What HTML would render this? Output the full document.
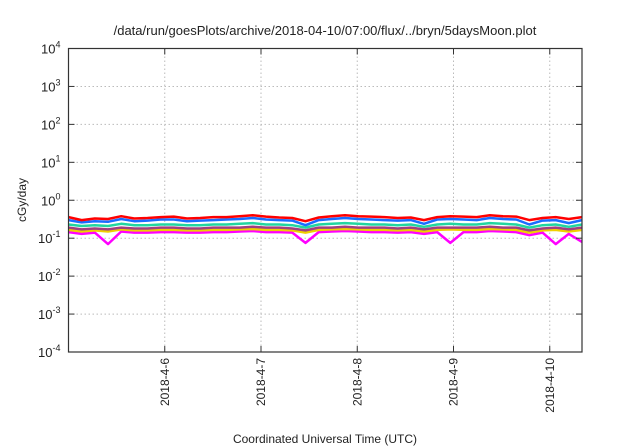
<!DOCTYPE html>
<html><head><meta charset="utf-8"><style>
body{margin:0;background:#fff;}
svg{display:block;font-family:"Liberation Sans",sans-serif;}
</style></head><body>
<svg id="chart" width="640" height="448" viewBox="0 0 640 448">
<text x="325" y="35" font-size="13" text-anchor="middle" fill="#222">/data/run/goesPlots/archive/2018-04-10/07:00/flux/../bryn/5daysMoon.plot</text>
<g id="grid"></g><g id="series"></g><g id="axes"></g>
<text transform="translate(26,200) rotate(-90)" font-size="12" text-anchor="middle" fill="#222">cGy/day</text>
<text x="325" y="443" font-size="12" text-anchor="middle" fill="#222">Coordinated Universal Time (UTC)</text>
</svg>
<script>
const xTickLabels=["2018-4-6","2018-4-7","2018-4-8","2018-4-9","2018-4-10"];
const xTickDays=[6,7,8,9,10];
const yTickExps=[-4,-3,-2,-1,0,1,2,3,4];
const colors=["#ff0000","#1a6cff","#22d6a0","#a04080","#f0d000","#ff00ff"];
const red=[0.36,0.30,0.33,0.32,0.38,0.33,0.34,0.36,0.37,0.33,0.34,0.36,0.36,0.38,0.40,0.37,0.35,0.34,0.28,0.35,0.38,0.40,0.38,0.37,0.36,0.34,0.35,0.30,0.36,0.38,0.37,0.36,0.40,0.38,0.37,0.30,0.34,0.36,0.32,0.36];
const blue=[0.30,0.26,0.28,0.27,0.32,0.28,0.29,0.31,0.31,0.28,0.29,0.30,0.31,0.32,0.34,0.31,0.30,0.29,0.22,0.30,0.32,0.34,0.32,0.31,0.30,0.29,0.30,0.24,0.31,0.32,0.31,0.30,0.34,0.32,0.31,0.23,0.29,0.30,0.25,0.30];
const cyan=[0.23,0.21,0.22,0.21,0.24,0.22,0.22,0.23,0.23,0.22,0.22,0.23,0.23,0.24,0.25,0.23,0.23,0.22,0.19,0.23,0.24,0.25,0.24,0.23,0.23,0.22,0.23,0.20,0.23,0.24,0.23,0.23,0.25,0.24,0.23,0.19,0.22,0.23,0.20,0.23];
const purple=[0.19,0.17,0.18,0.17,0.19,0.18,0.18,0.19,0.19,0.18,0.18,0.19,0.19,0.19,0.20,0.19,0.19,0.18,0.16,0.19,0.19,0.20,0.19,0.19,0.19,0.18,0.19,0.17,0.19,0.19,0.19,0.19,0.20,0.19,0.19,0.16,0.18,0.19,0.17,0.19];
const yellow=[0.165,0.15,0.16,0.15,0.17,0.16,0.16,0.165,0.165,0.16,0.16,0.165,0.165,0.17,0.175,0.165,0.165,0.16,0.14,0.165,0.17,0.175,0.17,0.165,0.165,0.16,0.165,0.15,0.165,0.17,0.165,0.165,0.175,0.17,0.165,0.14,0.16,0.165,0.15,0.165];
const magenta=[0.145,0.13,0.14,0.07,0.15,0.14,0.14,0.145,0.145,0.14,0.14,0.145,0.145,0.15,0.155,0.145,0.145,0.14,0.075,0.145,0.15,0.155,0.15,0.145,0.145,0.14,0.145,0.13,0.145,0.075,0.145,0.145,0.155,0.15,0.145,0.12,0.14,0.07,0.13,0.08];
const seriesList=[red,blue,cyan,purple,yellow,magenta];
const X0=68.5,X1=582,Y0=48.5,Y1=352;
const dStart=5.0,dEnd=10.335,yMin=-4,yMax=4;
const xs=d=>X0+(d-dStart)/(dEnd-dStart)*(X1-X0);
const ys=v=>Y1-(Math.log10(v)-yMin)/(yMax-yMin)*(Y1-Y0);
const NS="http://www.w3.org/2000/svg";
function mk(t,a,p){const e=document.createElementNS(NS,t);for(const k in a)e.setAttribute(k,a[k]);p.appendChild(e);return e;}
const grid=document.getElementById('grid'),axes=document.getElementById('axes'),ser=document.getElementById('series');
yTickExps.forEach(e=>{const y=ys(Math.pow(10,e));
 if(e>yMin&&e<yMax){const l=mk('line',{x1:X0,x2:X1,y1:y,y2:y,stroke:'#bbb','stroke-dasharray':'1.5,2.5','stroke-width':1},grid);
 }
 const t=mk('line',{x1:X0,x2:X0+6,y1:y,y2:y,stroke:'#333'},axes);
 const t2=mk('line',{x1:X1-6,x2:X1,y1:y,y2:y,stroke:'#333'},axes);
 const tx=mk('text',{x:X0-8,y:y+5,'font-size':13,'text-anchor':'end',fill:'#222'},axes);
 
 tx.textContent='10';const s=mk('tspan',{dy:-6,'font-size':9},tx);s.textContent=String(e);});
xTickDays.forEach((d,i)=>{const x=xs(d);
 const l=mk('line',{x1:x,x2:x,y1:Y0,y2:Y1,stroke:'#bbb','stroke-dasharray':'1.5,2.5'},grid);
 
 const t=mk('line',{x1:x,x2:x,y1:Y1-6,y2:Y1,stroke:'#333'},axes);
 const t2=mk('line',{x1:x,x2:x,y1:Y0,y2:Y0+6,stroke:'#333'},axes);
 const tx=mk('text',{transform:`translate(${x+4},${Y1+6}) rotate(-90)`,'font-size':12,'text-anchor':'end',fill:'#222'},axes);
 tx.textContent=xTickLabels[i];});
const fr=mk('rect',{x:X0,y:Y0,width:X1-X0,height:Y1-Y0,fill:'none',stroke:'#333','stroke-width':1.2},axes);

const names=['series-red','series-blue','series-cyan','series-purple','series-yellow','series-magenta'];
seriesList.slice().reverse().forEach((arr,ri)=>{const i=seriesList.length-1-ri;
 const n=arr.length;const pts=arr.map((v,k)=>xs(dStart+k*(dEnd-dStart)/(n-1)).toFixed(1)+','+ys(v).toFixed(1)).join(' ');
 const p=mk('polyline',{points:pts,fill:'none',stroke:colors[i],'stroke-width':2.5,'stroke-linejoin':'round'},ser);
 });
</script>
</body></html>
